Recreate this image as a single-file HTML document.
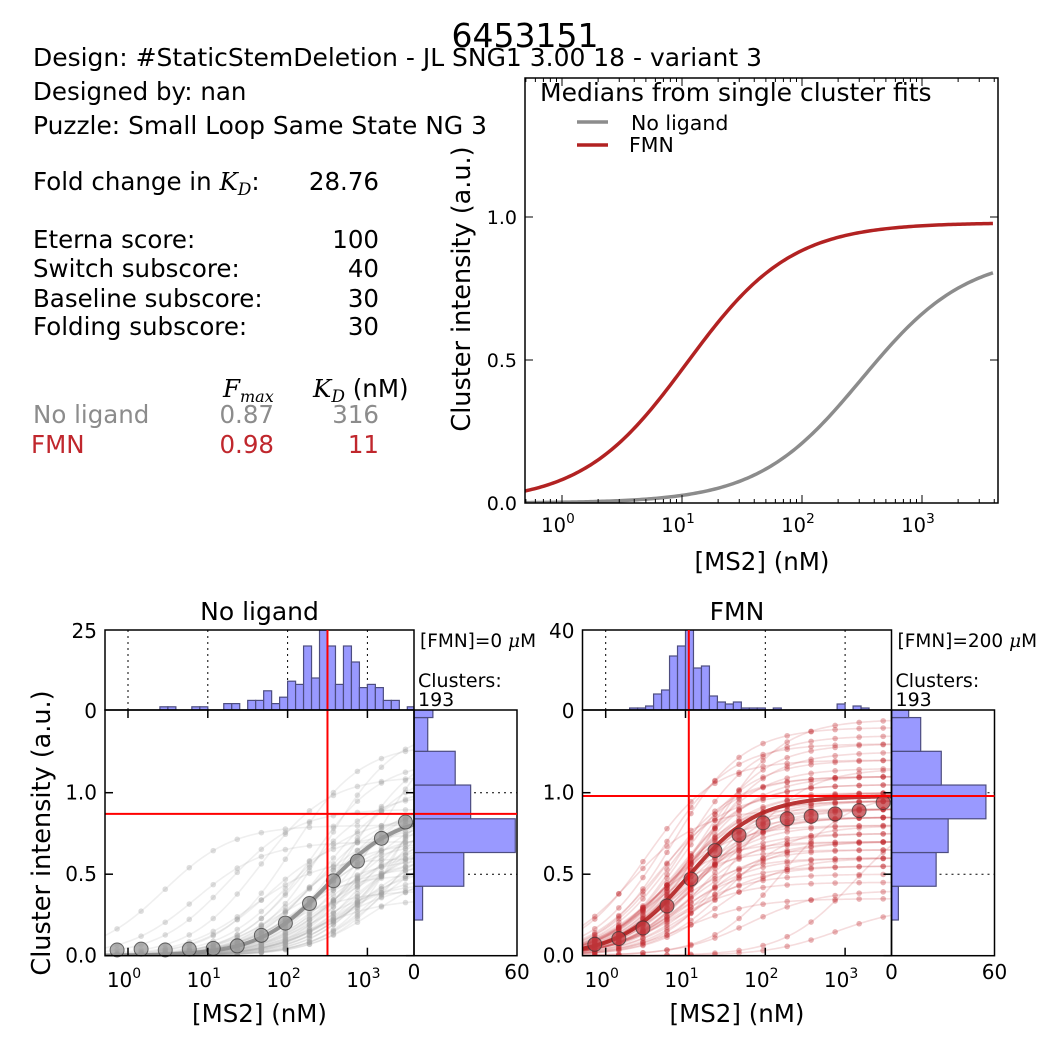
<!DOCTYPE html>
<html><head><meta charset="utf-8"><style>
html,body{margin:0;padding:0;background:#fff;}
svg{display:block;font-family:"DejaVu Sans","Liberation Sans",sans-serif;}
</style></head><body>
<svg id="fig" width="1050" height="1050" viewBox="0 0 1050 1050" xmlns="http://www.w3.org/2000/svg">
<rect width="1050" height="1050" fill="#fff"/>
<text x="525" y="47" font-size="33" text-anchor="middle">6453151</text>
<g font-size="24.5">
<text x="33" y="66" textLength="729" lengthAdjust="spacingAndGlyphs">Design: #StaticStemDeletion - JL SNG1 3.00 18 - variant 3</text>
<text x="33" y="100">Designed by: nan</text>
<text x="33" y="134" textLength="454" lengthAdjust="spacingAndGlyphs">Puzzle: Small Loop Same State NG 3</text>
<text x="33" y="190">Fold change in <tspan font-family="'DejaVu Serif','Liberation Serif',serif" font-style="italic">K</tspan><tspan font-family="'DejaVu Serif','Liberation Serif',serif" font-style="italic" font-size="17" dy="5">D</tspan><tspan dy="-5">:</tspan></text>
<text x="379" y="190" text-anchor="end">28.76</text>
<text x="33" y="248">Eterna score:</text><text x="379" y="248" text-anchor="end">100</text>
<text x="33" y="277">Switch subscore:</text><text x="379" y="277" text-anchor="end">40</text>
<text x="33" y="307">Baseline subscore:</text><text x="379" y="307" text-anchor="end">30</text>
<text x="33" y="335">Folding subscore:</text><text x="379" y="335" text-anchor="end">30</text>
<text x="223" y="397" font-family="'DejaVu Serif','Liberation Serif',serif" font-style="italic">F<tspan font-size="16" dy="5">max</tspan></text>
<text x="313" y="397"><tspan font-family="'DejaVu Serif','Liberation Serif',serif" font-style="italic">K</tspan><tspan font-family="'DejaVu Serif','Liberation Serif',serif" font-style="italic" font-size="17" dy="5">D</tspan><tspan dy="-5"> (nM)</tspan></text>
<text x="33" y="423" fill="#8c8c8c">No ligand</text><text x="274" y="423" fill="#8c8c8c" text-anchor="end">0.87</text><text x="379" y="423" fill="#8c8c8c" text-anchor="end">316</text>
<text x="31" y="453" fill="#c0272d">FMN</text><text x="274" y="453" fill="#c0272d" text-anchor="end">0.98</text><text x="379" y="453" fill="#c0272d" text-anchor="end">11</text>
</g>
</svg>
<script>
// ---------- data ----------
const medianFmax = [0.87, 0.98];          // No ligand, FMN
const medianKd = [316, 11];
const concentrations = [0.73,1.46,2.93,5.86,11.7,23.4,46.9,93.8,188,375,750,1500,3000];
const mediansNoLigand = [0.035,0.04,0.035,0.04,0.045,0.06,0.125,0.2,0.32,0.46,0.58,0.72,0.82];
const mediansFMN = [0.07,0.105,0.17,0.305,0.47,0.645,0.74,0.815,0.84,0.855,0.87,0.89,0.94];
const kdHistStartNoLigand = 0.4;
const kdHistNoLigand = [1,1,0,0,1,1,0,0,2,2,0,3,3,6,2,4,9,8,20,10,27,20,8,20,15,7,8,7,3,3,0,1];
const kdHistStartFMN = 0.3;
const kdHistFMN = [1,1,2,8,10,27,32,42,21,22,7,4,3,4,1,1,1,0,1,0,0,0,0,0,0,0,3,0,2,1];
const fmaxEdges = [0.219,0.426,0.633,0.840,1.047,1.254,1.461,1.668];
const fmaxHistNoLigand = [5,29,59,33,24,8,11];
const fmaxHistFMN = [4,26,33,55,29,17,10];
const clusterLogKdNoLigand = [0.45,0.85,1.25,1.55,1.65,1.75,1.9,2.0,2.05,2.1,2.2,2.2,2.25,2.3,2.35,2.4,2.4,2.45,2.45,2.5,2.5,2.55,2.6,2.65,2.7,2.7,2.75,2.8,2.8,2.85,2.9,3.0,3.05,3.1,3.15,3.2,3.3,3.5,2.35,2.6,2.15,2.3,2.45,2.55,2.65,2.75,2.9,3.0,3.2,3.4,1.95,2.5,2.6,2.8,3.1];
const clusterFmaxNoLigand = [0.8,0.7,0.9,0.6,1.1,0.75,0.5,0.85,1.3,0.7,0.6,1.0,0.8,1.2,0.9,0.45,0.75,1.05,0.65,0.85,1.4,0.95,0.7,1.15,0.55,0.8,1.0,0.9,1.3,0.6,0.75,1.1,0.85,1.45,0.7,1.0,1.2,1.5,0.35,0.95,0.55,0.7,0.6,0.9,0.5,0.75,0.65,0.95,0.8,1.0,0.4,0.6,0.45,0.7,0.55];
const clusterLogKdFMN = [0.3,0.5,0.6,0.65,0.7,0.75,0.8,0.8,0.85,0.85,0.9,0.9,0.9,0.95,0.95,1.0,1.0,1.0,1.0,1.05,1.05,1.1,1.1,1.15,1.2,1.2,1.25,1.3,1.4,1.5,1.6,1.8,2.2,2.9,3.1,0.88,0.92,0.98,1.02,1.12,0.7,0.8,0.85,0.95,1.0,1.05,1.1,1.2,0.6,0.9,0.75,1.15,1.3,0.85,1.0];
const clusterFmaxFMN = [0.9,1.2,0.7,1.0,1.3,0.85,0.6,1.1,0.95,1.4,0.75,1.05,0.5,0.9,1.2,0.8,1.0,1.35,0.65,0.95,1.1,0.55,0.85,1.25,0.7,1.0,0.9,1.45,0.6,0.8,1.15,0.4,1.0,0.3,0.9,0.95,1.05,0.85,1.15,1.3,0.8,0.9,0.7,1.0,0.6,0.85,0.75,0.95,0.65,0.55,1.1,0.9,0.7,0.45,0.35];
const yTicks = [0.0,0.5,1.0];
const yTickLabels = ['0.0','0.5','1.0'];
const xTickExps = [0,1,2,3];

// ---------- helpers ----------
const NS='http://www.w3.org/2000/svg';
const fig=document.getElementById('fig');
function mk(tag,attrs,parent){const e=document.createElementNS(NS,tag);for(const k in attrs)e.setAttribute(k,attrs[k]);(parent||fig).appendChild(e);return e;}
function hill(c,f,kd){return f*c/(c+kd);}
let clipId=0;
function clipRect(x,y,w,h){const id='clip'+(clipId++);const cp=mk('clipPath',{id:id});mk('rect',{x:x,y:y,width:w,height:h},cp);return 'url(#'+id+')';}
function curvePath(xs,ys,f,kd,l0,l1){let d='';const n=200;for(let i=0;i<=n;i++){const lg=l0+(l1-l0)*i/n;const c=Math.pow(10,lg);d+=(i?'L':'M')+xs(lg).toFixed(2)+','+ys(hill(c,f,kd)).toFixed(2);}return d;}
function logTicks(g,xs,l0,l1,yb,yt,both){
  for(let e=-1;e<=4;e++){for(let m=1;m<10;m++){const lg=e+Math.log10(m);if(lg<l0||lg>l1)continue;const x=xs(lg);const L=m===1?8:4;
    const t=mk('line',{x1:x,x2:x,y1:yb,y2:yb-L,stroke:'#000','stroke-width':1},g);
    
    
    if(both){const t2=mk('line',{x1:x,x2:x,y1:yt,y2:yt+L,stroke:'#000','stroke-width':1},g);
      
      }
  }}
}
function xLabels(g,xs,y,fs){xTickExps.forEach(e=>{const t=mk('text',{x:xs(e)-4,y:y,'font-size':fs,'text-anchor':'middle'},g);t.textContent='10';
  
  
  const s=mk('tspan',{'font-size':fs*0.7,dy:-fs*0.45},t);s.textContent=String(e);});}

// ---------- top medians chart ----------
(function(){
  const L=525,R=998,T=78,B=503;
  const xs=lg=>562+120*lg, ys=v=>503-286*v;
  const l0=(L-562)/120,l1=(R-562)/120;
  const g=mk('g',{});
  const cp=clipRect(L,T,R-L,B-T);
  const cols=['#8c8c8c','#b22222'];
  const names=['no-ligand-median-curve','fmn-median-curve'];
  for(let i=0;i<2;i++){const p=mk('path',{d:curvePath(xs,ys,medianFmax[i],medianKd[i],l0,Math.log10(3900)),fill:'none',stroke:cols[i],'stroke-width':3.5,'clip-path':cp},g);
    
    }
  mk('rect',{x:L,y:T,width:R-L,height:B-T,fill:'none',stroke:'#000','stroke-width':1.5},g);
  logTicks(g,xs,l0,l1,B,T,true);
  yTicks.forEach((v,i)=>{const y=ys(v);mk('line',{x1:L,x2:L+8,y1:y,y2:y,stroke:'#000'},g);mk('line',{x1:R,x2:R-8,y1:y,y2:y,stroke:'#000'},g);
    const t=mk('text',{x:L-8,y:y+7,'font-size':19,'text-anchor':'end'},g);t.textContent=yTickLabels[i];
    
    });
  xLabels(g,xs,532,19.5);
  const xl=mk('text',{x:762,y:570,'font-size':24.5,'text-anchor':'middle'},g);xl.textContent='[MS2] (nM)';
  
  const yl=mk('text',{x:0,y:0,'font-size':25.5,'text-anchor':'middle',transform:'translate(470,289) rotate(-90)'},g);yl.textContent='Cluster intensity (a.u.)';
  
  const lg=mk('g',{},g);
  const lt=mk('text',{x:540,y:101,'font-size':25},lg);lt.textContent='Medians from single cluster fits';
  mk('line',{x1:577,x2:608,y1:122,y2:122,stroke:'#8c8c8c','stroke-width':3.5},lg);
  const a=mk('text',{x:631,y:130,'font-size':20.5},lg);a.textContent='No ligand';
  mk('line',{x1:577,x2:608,y1:145,y2:145,stroke:'#b22222','stroke-width':3.5},lg);
  const b=mk('text',{x:629,y:152,'font-size':20.5},lg);b.textContent='FMN';
})();

// ---------- bottom panels ----------
function panel(o){
  const X0=o.X0, L=o.L, R=L+309, T=710, B=955.7, HT=630, HR=R+103;
  const xs=lg=>X0+79.8*lg, ys=v=>B-163*v;
  const l0=(L-X0)/79.8, l1=(R-X0)/79.8;
  const g=mk('g',{});
  const cp=clipRect(L,T,R-L,B-T);
  const cg=mk('g',{'clip-path':cp},g);
  o.kds.forEach((lk,i)=>{const kd=Math.pow(10,lk),f=o.fm[i];
    const p=mk('path',{d:curvePath(xs,ys,f,kd,l0,l1),fill:'none',stroke:o.lc,'stroke-opacity':0.16,'stroke-width':1.6},cg);
    
    
    concentrations.forEach(c=>{const d=mk('circle',{cx:xs(Math.log10(c)),cy:ys(hill(c,f,kd)),r:2.8,fill:o.pc,'fill-opacity':0.35},cg);
      
      });
  });
  const mp=mk('path',{d:curvePath(xs,ys,o.f,o.kd,l0,l1),fill:'none',stroke:o.mc,'stroke-width':4,'stroke-opacity':0.9,'clip-path':cp},g);
  
  concentrations.forEach((c,i)=>{const d=mk('circle',{cx:xs(Math.log10(c)),cy:ys(o.med[i]),r:7,fill:o.cf,'fill-opacity':0.75,stroke:'#333','stroke-opacity':0.7,'stroke-width':1},g);
    
    });
  const hg=mk('g',{},g);
  const hcp=clipRect(L,HT,R-L,T-HT);
  xTickExps.forEach(e=>mk('line',{x1:xs(e),x2:xs(e),y1:HT,y2:T,stroke:'#000','stroke-dasharray':'2,4','stroke-width':1},hg));
  o.kh.forEach((n,i)=>{if(!n)return;const a=o.ks+0.1*i;const x1=xs(a),x2=xs(a+0.1);const h=80*n/o.hmax;
    const r=mk('rect',{x:x1,y:T-h,width:x2-x1,height:h,fill:'#9999ff',stroke:'#4d4d80','stroke-width':1.2,'clip-path':hcp},hg);
    
    });
  mk('rect',{x:L,y:HT,width:R-L,height:T-HT,fill:'none',stroke:'#000','stroke-width':1.5},hg);
  const h1=mk('text',{x:L-8,y:HT+8,'font-size':20,'text-anchor':'end'},hg);h1.textContent=String(o.hmax);
  const h0=mk('text',{x:L-8,y:T+8,'font-size':20,'text-anchor':'end'},hg);h0.textContent='0';
  const rg=mk('g',{},g);
  const rcp=clipRect(R,T,HR-R,B-T);
  [0.5,1.0].forEach(v=>mk('line',{x1:R,x2:HR,y1:ys(v),y2:ys(v),stroke:'#000','stroke-dasharray':'2,4'},rg));
  o.fh.forEach((n,i)=>{const y1=ys(fmaxEdges[i+1]),y2=ys(fmaxEdges[i]);
    const r=mk('rect',{x:R,y:y1,width:103*n/60,height:y2-y1,fill:'#9999ff',stroke:'#4d4d80','stroke-width':1.2,'clip-path':rcp},rg);
    
    });
  mk('rect',{x:R,y:T,width:HR-R,height:B-T,fill:'none',stroke:'#000','stroke-width':1.5},rg);
  const r0=mk('text',{x:R,y:979,'font-size':20,'text-anchor':'middle'},rg);r0.textContent='0';
  const r6=mk('text',{x:HR,y:979,'font-size':20,'text-anchor':'middle'},rg);r6.textContent='60';
  const kx=xs(Math.log10(o.kd)), fy=ys(o.f);
  const v=mk('line',{x1:kx,x2:kx,y1:HT,y2:B,stroke:'#ff0000','stroke-width':2},g);
  const hz=mk('line',{x1:L,x2:HR,y1:fy,y2:fy,stroke:'#ff0000','stroke-width':2},g);
  mk('rect',{x:L,y:T,width:R-L,height:B-T,fill:'none',stroke:'#000','stroke-width':1.5},g);
  xTickExps.forEach(e=>{const x=xs(e);mk('line',{x1:x,x2:x,y1:B,y2:B-8,stroke:'#000','stroke-width':1.5},g);mk('line',{x1:x,x2:x,y1:T,y2:T+8,stroke:'#000','stroke-width':1.5},g);});
  yTicks.forEach((vv,i)=>{const y=ys(vv);mk('line',{x1:L,x2:L+8,y1:y,y2:y,stroke:'#000','stroke-width':1.5},g);mk('line',{x1:R,x2:R-8,y1:y,y2:y,stroke:'#000','stroke-width':1.5},g);
    const t=mk('text',{x:L-8,y:y+7,'font-size':20,'text-anchor':'end'},g);t.textContent=yTickLabels[i];
    
    });
  xLabels(g,xs,987,20);
  const tt=mk('text',{x:(L+R)/2,y:620,'font-size':25,'text-anchor':'middle'},g);tt.textContent=o.title;
  
  const xl=mk('text',{x:(L+R)/2,y:1022,'font-size':24.5,'text-anchor':'middle'},g);xl.textContent='[MS2] (nM)';
  
  const c1=mk('text',{x:R+6,y:647,'font-size':18.5},g);c1.textContent=o.cond;
  const mu=mk('tspan',{'font-family':"'DejaVu Serif',serif",'font-style':'italic'},c1);mu.textContent='μ';
  const mm=mk('tspan',{},c1);mm.textContent='M';
  
  const c2=mk('text',{x:R+4,y:687,'font-size':19},g);c2.textContent='Clusters:';
  const c3=mk('text',{x:R+4,y:706,'font-size':19},g);c3.textContent='193';
  
}
panel({name:'no-ligand',title:'No ligand',X0:128,L:105,f:medianFmax[0],kd:medianKd[0],med:mediansNoLigand,kds:clusterLogKdNoLigand,fm:clusterFmaxNoLigand,
  kh:kdHistNoLigand,ks:kdHistStartNoLigand,hmax:25,fh:fmaxHistNoLigand,lc:'#999',pc:'#a0a0a0',mc:'#8c8c8c',cf:'#999',cond:'[FMN]=0 '});
panel({name:'fmn',title:'FMN',X0:605.7,L:582.5,f:medianFmax[1],kd:medianKd[1],med:mediansFMN,kds:clusterLogKdFMN,fm:clusterFmaxFMN,
  kh:kdHistFMN,ks:kdHistStartFMN,hmax:40,fh:fmaxHistFMN,lc:'#c0272d',pc:'#c0272d',mc:'#b22222',cf:'#c0393f',cond:'[FMN]=200 '});
const yl2=mk('text',{x:0,y:0,'font-size':25.5,'text-anchor':'middle',transform:'translate(50,833) rotate(-90)'});
yl2.textContent='Cluster intensity (a.u.)';


</script>
</body></html>
